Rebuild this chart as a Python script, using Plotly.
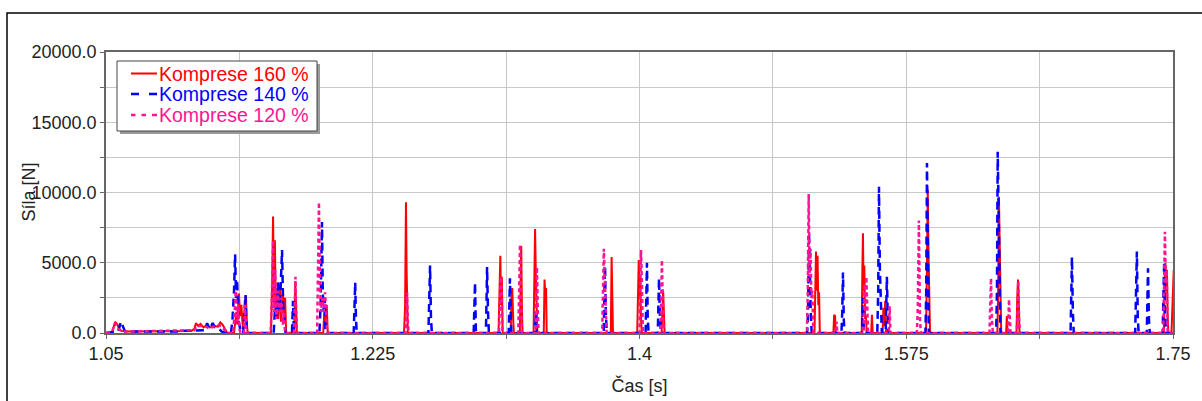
import plotly.graph_objects as go

# ---- data (time [s], force [N]) ----
komprese_160 = [
    (1.0500, 0), (1.0540, 50), (1.0560, 800), (1.0575, 600), (1.0585, 300), (1.0600, 150),
    (1.0650, 100), (1.0800, 100), (1.0960, 100), (1.0990, 150), (1.1060, 150), (1.1080, 300),
    (1.1090, 700), (1.1105, 500), (1.1120, 650), (1.1140, 400), (1.1160, 550), (1.1180, 400),
    (1.1210, 500), (1.1235, 450), (1.1250, 750), (1.1265, 600), (1.1280, 300), (1.1295, 0),
    (1.1340, 0), (1.1355, 1500), (1.1362, 600), (1.1372, 2800), (1.1380, 1200), (1.1388, 2000),
    (1.1398, 300), (1.1410, 1800), (1.1418, 2700), (1.1425, 500), (1.1430, 0),
    (1.1582, 0), (1.1590, 3500), (1.1596, 8300), (1.1602, 2000), (1.1608, 6600), (1.1614, 1500),
    (1.1620, 3000), (1.1630, 1000), (1.1640, 3500), (1.1648, 800), (1.1660, 3200), (1.1668, 1200),
    (1.1675, 2500), (1.1682, 0),
    (1.1735, 0), (1.1742, 3700), (1.1748, 1500), (1.1752, 0),
    (1.1925, 0), (1.1932, 1500), (1.1940, 600), (1.1948, 2000), (1.1955, 0),
    (1.2455, 0), (1.2462, 1800), (1.2468, 9300), (1.2472, 4500), (1.2476, 1500), (1.2480, 0),
    (1.3075, 0), (1.3082, 2500), (1.3087, 5500), (1.3092, 2000), (1.3097, 4000), (1.3102, 0),
    (1.3155, 0), (1.3160, 2500), (1.3165, 3200), (1.3172, 800), (1.3176, 0),
    (1.3215, 0), (1.3220, 4500), (1.3224, 6200), (1.3229, 1500), (1.3233, 0),
    (1.3305, 0), (1.3310, 3000), (1.3315, 7400), (1.3320, 4000), (1.3325, 1500), (1.3330, 0),
    (1.3372, 0), (1.3377, 3800), (1.3383, 2500), (1.3387, 3200), (1.3391, 0),
    (1.3812, 0), (1.3817, 5400), (1.3822, 2000), (1.3826, 0),
    (1.3985, 0), (1.3990, 4500), (1.3995, 5200), (1.4000, 2500), (1.4005, 4000), (1.4010, 1000), (1.4015, 0),
    (1.4145, 0), (1.4150, 2500), (1.4155, 3000), (1.4160, 1500), (1.4165, 0),
    (1.5148, 0), (1.5153, 4500), (1.5158, 5800), (1.5163, 3000), (1.5168, 5500), (1.5173, 2000),
    (1.5178, 2900), (1.5183, 0),
    (1.5272, 0), (1.5277, 1300), (1.5283, 1200), (1.5288, 0),
    (1.5458, 0), (1.5462, 4500), (1.5466, 7100), (1.5470, 3000), (1.5475, 4800), (1.5480, 1000),
    (1.5486, 1200), (1.5490, 0),
    (1.5520, 0), (1.5525, 1300), (1.5530, 0),
    (1.5595, 0), (1.5600, 1800), (1.5606, 500), (1.5612, 2300), (1.5618, 0),
    (1.5880, 0), (1.5886, 5000), (1.5891, 10200), (1.5896, 5700), (1.5901, 1500), (1.5906, 0),
    (1.6348, 0), (1.6353, 3000), (1.6358, 9700), (1.6363, 6600), (1.6368, 2500), (1.6373, 0),
    (1.6405, 0), (1.6410, 1200), (1.6415, 0),
    (1.6473, 0), (1.6478, 2400), (1.6483, 3800), (1.6488, 2500), (1.6493, 0),
    (1.7440, 0), (1.7445, 2000), (1.7450, 5000), (1.7455, 3000), (1.7460, 4500), (1.7465, 1200),
    (1.7470, 0), (1.7490, 0), (1.7495, 2000), (1.7505, 4500),
]

komprese_140 = [
    (1.0500, 0), (1.0580, 100), (1.0598, 800), (1.0612, 400), (1.0625, 100), (1.0960, 100),
    (1.1000, 150), (1.1150, 200), (1.1163, 700), (1.1180, 300), (1.1200, 700), (1.1215, 400),
    (1.1240, 300), (1.1260, 100), (1.1290, 0),
    (1.1320, 0), (1.1330, 1000), (1.1340, 3000), (1.1347, 5600), (1.1353, 2500), (1.1360, 3800),
    (1.1368, 1000), (1.1378, 400), (1.1385, 0),
    (1.1400, 0), (1.1408, 1500), (1.1415, 2700), (1.1420, 1000), (1.1425, 0),
    (1.1600, 0), (1.1610, 2000), (1.1620, 1000), (1.1628, 3600), (1.1635, 1500), (1.1645, 3000),
    (1.1655, 5900), (1.1662, 2000), (1.1670, 1000), (1.1678, 0),
    (1.1720, 0), (1.1727, 2300), (1.1733, 0),
    (1.1900, 0), (1.1908, 2000), (1.1913, 5000), (1.1917, 7900), (1.1922, 3000), (1.1928, 1500),
    (1.1935, 2400), (1.1940, 0),
    (1.2125, 0), (1.2130, 1500), (1.2135, 3600), (1.2140, 1000), (1.2145, 0),
    (1.2615, 0), (1.2620, 1800), (1.2626, 4800), (1.2632, 1000), (1.2638, 0),
    (1.2912, 0), (1.2916, 1500), (1.2921, 3600), (1.2927, 0),
    (1.2992, 0), (1.2996, 2000), (1.3000, 4700), (1.3006, 1500), (1.3012, 0),
    (1.3142, 0), (1.3146, 2000), (1.3150, 3900), (1.3156, 1000), (1.3160, 0),
    (1.3314, 0), (1.3320, 1500), (1.3326, 0),
    (1.3765, 0), (1.3770, 3000), (1.3774, 4700), (1.3779, 1500), (1.3785, 0),
    (1.4040, 0), (1.4045, 2500), (1.4049, 5000), (1.4054, 1000), (1.4060, 0),
    (1.4120, 0), (1.4124, 2000), (1.4128, 3900), (1.4133, 1500), (1.4140, 0),
    (1.5100, 0), (1.5106, 1500), (1.5112, 7100), (1.5118, 3000), (1.5125, 1000), (1.5130, 0),
    (1.5325, 0), (1.5330, 1500), (1.5335, 4300), (1.5340, 1000), (1.5345, 0),
    (1.5460, 0), (1.5466, 2500), (1.5472, 0),
    (1.5560, 0), (1.5566, 3000), (1.5571, 10400), (1.5577, 4500), (1.5583, 1500), (1.5590, 0),
    (1.5615, 0), (1.5619, 2000), (1.5623, 4000), (1.5628, 1500), (1.5633, 0),
    (1.5876, 0), (1.5881, 3000), (1.5886, 12100), (1.5892, 4000), (1.5898, 0),
    (1.6340, 0), (1.6345, 3000), (1.6350, 12900), (1.6356, 8000), (1.6362, 1500), (1.6368, 0),
    (1.6828, 0), (1.6832, 2000), (1.6837, 5400), (1.6843, 1500), (1.6849, 0),
    (1.7252, 0), (1.7257, 2500), (1.7263, 5800), (1.7269, 1000), (1.7275, 0),
    (1.7328, 0), (1.7332, 1500), (1.7336, 4600), (1.7342, 1000), (1.7348, 0),
    (1.7432, 0), (1.7437, 2500), (1.7442, 5000), (1.7448, 1500), (1.7454, 0),
    (1.7505, 0),
]

komprese_120 = [
    (1.0500, 0), (1.0540, 100), (1.0560, 700), (1.0580, 300), (1.0610, 100), (1.1080, 200),
    (1.1095, 500), (1.1150, 500), (1.1180, 300), (1.1230, 600), (1.1250, 500), (1.1280, 200),
    (1.1300, 0),
    (1.1335, 0), (1.1345, 1500), (1.1352, 3000), (1.1360, 800), (1.1368, 2000), (1.1375, 300),
    (1.1382, 0),
    (1.1405, 0), (1.1412, 2000), (1.1420, 0),
    (1.1580, 0), (1.1588, 2500), (1.1596, 6600), (1.1602, 1500), (1.1610, 4500), (1.1618, 1000),
    (1.1628, 3000), (1.1638, 1500), (1.1650, 2500), (1.1660, 600), (1.1668, 1500), (1.1675, 0),
    (1.1733, 0), (1.1738, 2000), (1.1743, 4000), (1.1748, 1500), (1.1753, 0),
    (1.1885, 0), (1.1890, 3000), (1.1897, 9300), (1.1903, 4000), (1.1910, 1500), (1.1920, 2500),
    (1.1930, 1500), (1.1937, 2900), (1.1945, 500), (1.1950, 0),
    (1.2465, 0), (1.2470, 1500), (1.2475, 2900), (1.2480, 1000), (1.2485, 0),
    (1.3078, 0), (1.3084, 2000), (1.3090, 4000), (1.3096, 3000), (1.3102, 0),
    (1.3205, 0), (1.3210, 2500), (1.3216, 6300), (1.3222, 3000), (1.3228, 0),
    (1.3318, 0), (1.3322, 2000), (1.3327, 4700), (1.3333, 1500), (1.3338, 0),
    (1.3755, 0), (1.3760, 3000), (1.3766, 6000), (1.3772, 4000), (1.3778, 1500), (1.3784, 0),
    (1.4000, 0), (1.4005, 3000), (1.4010, 5900), (1.4016, 3500), (1.4022, 0),
    (1.4138, 0), (1.4143, 2500), (1.4147, 5200), (1.4153, 2000), (1.4160, 0),
    (1.5098, 0), (1.5104, 3000), (1.5110, 9900), (1.5116, 4000), (1.5122, 6000), (1.5128, 2500),
    (1.5134, 3000), (1.5140, 0),
    (1.5288, 0), (1.5293, 800), (1.5298, 0),
    (1.5470, 0), (1.5476, 3500), (1.5482, 1500), (1.5488, 4000), (1.5495, 1000), (1.5500, 0),
    (1.5636, 0), (1.5641, 1900), (1.5646, 0),
    (1.5820, 0), (1.5826, 2000), (1.5833, 8000), (1.5840, 1000), (1.5846, 0),
    (1.6296, 0), (1.6300, 2000), (1.6306, 3900), (1.6312, 1000), (1.6318, 0),
    (1.6417, 0), (1.6421, 1500), (1.6424, 2400), (1.6430, 1000), (1.6435, 0),
    (1.6476, 0), (1.6480, 2000), (1.6485, 3700), (1.6490, 1000), (1.6495, 0),
    (1.7436, 0), (1.7441, 3000), (1.7447, 7200), (1.7453, 3500), (1.7459, 4500), (1.7465, 0),
    (1.7505, 0),
]

series_names = ["Komprese 160 %", "Komprese 140 %", "Komprese 120 %"]
series_colors = ["#ff0000", "#0000ff", "#ff1493"]
series_dash = ["solid", "8px,5px", "4px,3px"]
series_width = [2, 2.5, 2.5]
series_data = [komprese_160, komprese_140, komprese_120]

x_tick_vals = [1.05, 1.225, 1.4, 1.575, 1.75]
x_tick_text = ["1.05", "1.225", "1.4", "1.575", "1.75"]
y_tick_vals = [0, 5000, 10000, 15000, 20000]
y_tick_text = ["0.0", "5000.0", "10000.0", "15000.0", "20000.0"]

FONT = "Liberation Sans, Arial, sans-serif"

fig = go.Figure()
for name, col, dash, w, data in zip(series_names, series_colors, series_dash, series_width, series_data):
    t = [p[0] for p in data]
    f = [p[1] for p in data]
    fig.add_trace(go.Scatter(
        x=t, y=f, mode="lines", name=name, showlegend=False,
        line=dict(color=col, width=w, dash=dash),
    ))

W, H = 1202, 401
L, R, T, B = 106, 29, 52, 68
pw, ph = W - L - R, H - T - B

def px2x(px):
    return (px - L) / pw

def py2y(py):
    return (H - B - py) / ph

shapes = [
    # outer frame
    dict(type="rect", xref="paper", yref="paper", layer="above",
         x0=px2x(7), x1=px2x(1215), y0=py2y(420), y1=py2y(13),
         line=dict(color="black", width=1.5), fillcolor="rgba(0,0,0,0)"),
    # legend shadow
    dict(type="rect", xref="paper", yref="paper", layer="above",
         x0=px2x(120), x1=px2x(320), y0=py2y(134), y1=py2y(64),
         line=dict(width=0), fillcolor="#9a9a9a"),
    # legend box
    dict(type="rect", xref="paper", yref="paper", layer="above",
         x0=px2x(117), x1=px2x(317), y0=py2y(131), y1=py2y(61),
         line=dict(color="#444444", width=1), fillcolor="white"),
]
annotations = [dict(
    text="Síla [N]", textangle=-90, xref="paper", yref="paper",
    x=px2x(28), y=0.5, xanchor="center", yanchor="middle", showarrow=False,
    font=dict(family=FONT, size=18, color="#222222"),
)]
legend_rows_y = [73.5, 94, 115]
# legend sample segments (pixel spans) for solid / dashed / dotted keys
legend_segments = [
    [(131, 157)],
    [(131, 139), (149, 157)],
    [(131, 135.5), (141.5, 146), (152, 157)],
]
for name, col, w, yy, segs in zip(series_names, series_colors, series_width, legend_rows_y, legend_segments):
    for a, b in segs:
        shapes.append(dict(type="line", xref="paper", yref="paper", layer="above",
                           x0=px2x(a), x1=px2x(b), y0=py2y(yy), y1=py2y(yy),
                           line=dict(color=col, width=w)))
    annotations.append(dict(
        text=name, xref="paper", yref="paper", x=px2x(157), y=py2y(yy),
        xanchor="left", yanchor="middle", showarrow=False,
        font=dict(family=FONT, size=19.5, color=col),
    ))

fig.update_layout(
    width=W, height=H,
    margin=dict(l=L, r=R, t=T, b=B, autoexpand=False),
    paper_bgcolor="white", plot_bgcolor="white",
    font=dict(family=FONT, size=18, color="#222222"),
    showlegend=False,
    xaxis=dict(
        range=[1.05, 1.75], tickvals=x_tick_vals, ticktext=x_tick_text,
        showgrid=True, gridcolor="#c8c8c8", gridwidth=1,
        minor=dict(dtick=0.0875, tick0=1.05, showgrid=True, gridcolor="#c8c8c8", gridwidth=1,
                   ticks="outside", ticklen=4, tickcolor="#666666"),
        ticks="outside", ticklen=4, tickcolor="#666666",
        showline=True, linecolor="#666666", linewidth=1.5, mirror=True,
        zeroline=False,
        title=dict(text="Čas [s]", standoff=16, font=dict(family=FONT, size=18)),
        tickfont=dict(family=FONT, size=18),
    ),
    yaxis=dict(
        range=[0, 20000], tickvals=y_tick_vals, ticktext=y_tick_text,
        showgrid=True, gridcolor="#c8c8c8", gridwidth=1,
        minor=dict(dtick=2500, tick0=0, showgrid=True, gridcolor="#c8c8c8", gridwidth=1,
                   ticks="outside", ticklen=4, tickcolor="#666666"),
        ticks="outside", ticklen=4, tickcolor="#666666",
        showline=True, linecolor="#666666", linewidth=1.5, mirror=True,
        zeroline=False,
        tickfont=dict(family=FONT, size=18),
    ),
    annotations=annotations,
    shapes=shapes,
)

fig.write_html("out.html", config={"displayModeBar": False},
               post_script="document.body.style.margin='0';")
